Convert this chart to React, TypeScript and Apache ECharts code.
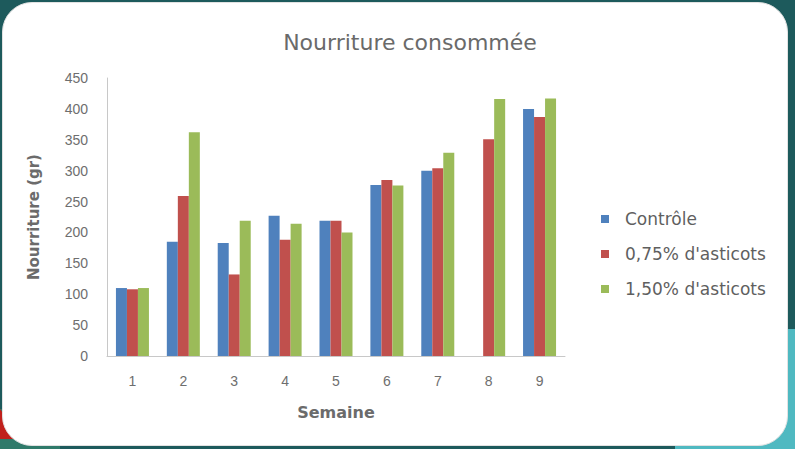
import React, { useEffect, useRef } from "react";
import * as echarts from "echarts";

const weeks = ["1", "2", "3", "4", "5", "6", "7", "8", "9"];
const controle = [110, 185, 183, 227, 219, 277, 300, null, 400];
const asticots075 = [108, 259, 132, 188, 219, 285, 304, 351, 387];
const asticots150 = [110, 362, 219, 214, 200, 276, 329, 416, 417];
const seriesNames = ["Contrôle", "0,75% d'asticots", "1,50% d'asticots"];
const colors = ["#4F81BD", "#C0504D", "#9BBB59"];

const titleFont = "'DejaVu Sans', 'Noto Sans', sans-serif";
const tickFont = "'Liberation Sans', 'Open Sans', sans-serif";

export default function App() {
  const ref = useRef<HTMLDivElement>(null);
  useEffect(() => {
    document.body.style.margin = "0";
    if (!ref.current) return;
    const chart = echarts.init(ref.current, null, { renderer: "svg" });
    const mk = (name: string, data: (number | null)[], color: string) => ({
      name,
      type: "bar",
      data,
      barWidth: 11,
      barGap: "0%",
      itemStyle: { color },
    });
    chart.setOption({
      animation: false,
      backgroundColor: "transparent",
      title: {
        text: "Nourriture consommée",
        left: 405,
        top: 26,
        textAlign: "center",
        textStyle: { fontFamily: titleFont, fontSize: 22, fontWeight: "normal", color: "#6a6a6a" },
      },
      grid: { left: 107, right: 230, top: 78, bottom: 93 },
      legend: {
        orient: "vertical",
        left: 596,
        top: 203,
        itemWidth: 8,
        itemHeight: 8,
        itemGap: 13,
        icon: "rect",
        data: seriesNames,
        textStyle: {
          fontFamily: titleFont,
          fontSize: 17,
          color: "#5f5f5f",
          lineHeight: 22,
          padding: [0, 0, 0, 11],
        },
      },
      xAxis: {
        type: "category",
        data: weeks,
        name: "Semaine",
        nameLocation: "middle",
        nameGap: 48,
        nameTextStyle: { fontFamily: titleFont, fontSize: 16, fontWeight: "bold", color: "#6b6b6b" },
        axisLine: { lineStyle: { color: "#c8c8c8", width: 1 } },
        axisTick: { show: false },
        axisLabel: { fontFamily: tickFont, fontSize: 14, color: "#6e6e6e", margin: 18 },
      },
      yAxis: {
        type: "value",
        min: 0,
        max: 450,
        interval: 50,
        name: "Nourriture (gr)",
        nameLocation: "middle",
        nameRotate: 90,
        nameGap: 66,
        nameTextStyle: { fontFamily: titleFont, fontSize: 15, fontWeight: "bold", color: "#6b6b6b" },
        axisLine: { show: true, lineStyle: { color: "#c8c8c8", width: 1 } },
        axisTick: { show: false },
        splitLine: { show: false },
        axisLabel: { fontFamily: tickFont, fontSize: 14, color: "#6e6e6e", margin: 19 },
      },
      series: [
        mk(seriesNames[0], controle, colors[0]),
        mk(seriesNames[1], asticots075, colors[1]),
        mk(seriesNames[2], asticots150, colors[2]),
      ],
    });
    return () => chart.dispose();
  }, []);

  return (
    <div style={{ position: "absolute", left: 0, top: 0, width: 795, height: 449, overflow: "hidden", background: "#1d5a5c" }}>
      <div style={{ position: "absolute", right: 0, bottom: 0, width: 120, height: 120, background: "#4fb9c1" }} />
      <div style={{ position: "absolute", left: 0, bottom: 0, width: 60, height: 40, background: "#2f7a6a" }} />
      <div style={{ position: "absolute", left: 0, bottom: 10, width: 0, height: 0, borderLeft: "22px solid #c0201c", borderTop: "30px solid transparent" }} />
      <div
        style={{
          position: "absolute",
          left: 2,
          top: 2,
          width: 784,
          height: 442,
          borderRadius: 30,
          background: "#ffffff",
          border: "1px solid #e2e2e2",
        }}
      />
      <div ref={ref} style={{ position: "absolute", left: 0, top: 0, width: 795, height: 449 }} />
    </div>
  );
}
